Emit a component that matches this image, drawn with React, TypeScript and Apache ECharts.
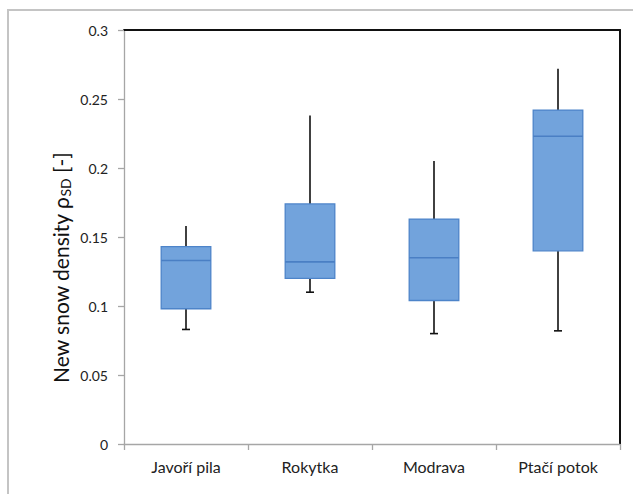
import React, { useEffect, useRef } from "react";
import * as echarts from "echarts";

const categories = ["Javoří pila", "Rokytka", "Modrava", "Ptačí potok"];
const whiskerLow = [0.083, 0.110, 0.080, 0.082];
const q1 = [0.098, 0.120, 0.104, 0.140];
const median = [0.133, 0.132, 0.135, 0.223];
const q3 = [0.143, 0.174, 0.163, 0.242];
const whiskerHigh = [0.158, 0.238, 0.205, 0.272];
const yMin = 0;
const yMax = 0.3;
const yStep = 0.05;
const yTitle = "{a|New snow density ρ}{s|SD}{a| [-]}";

const FONT = "Lato, 'Open Sans', sans-serif";

export default function App() {
  const ref = useRef<HTMLDivElement>(null);
  useEffect(() => {
    if (!ref.current) return;
    const chart = echarts.init(ref.current, null, { renderer: "svg" });
    const data = categories.map((_, i) => [i, whiskerLow[i], q1[i], median[i], q3[i], whiskerHigh[i]]);
    const whisk = { stroke: "#111", lineWidth: 1.6 };
    chart.setOption({
      animation: false,
      backgroundColor: "#fff",
      grid: { left: 124, right: 13, top: 30, bottom: 50 },
      xAxis: [
        {
          type: "category",
          data: categories,
          boundaryGap: true,
          position: "bottom",
          axisLine: { show: true, onZero: false, lineStyle: { color: "#a6a6a6", width: 1.3 } },
          axisTick: { show: true, length: 6, lineStyle: { color: "#a6a6a6", width: 1.3 } },
          axisLabel: { margin: 14, fontFamily: FONT, fontSize: 16, color: "#222" },
          splitLine: { show: false },
        },
        {
          type: "category",
          data: categories,
          position: "top",
          axisLine: { show: true, onZero: false, lineStyle: { color: "#111", width: 2 } },
          axisTick: { show: false },
          axisLabel: { show: false },
          splitLine: { show: false },
        },
      ],
      yAxis: [
        {
          type: "value",
          min: yMin,
          max: yMax,
          interval: yStep,
          position: "left",
          axisLine: { show: true, onZero: false, lineStyle: { color: "#a6a6a6", width: 1.3 } },
          axisTick: { show: true, length: 6, lineStyle: { color: "#a6a6a6", width: 1.3 } },
          axisLabel: { margin: 16, fontFamily: FONT, fontSize: 14, color: "#222" },
          splitLine: { show: false },
        },
        {
          type: "value",
          min: yMin,
          max: yMax,
          position: "right",
          axisLine: { show: true, onZero: false, lineStyle: { color: "#111", width: 2 } },
          axisTick: { show: false },
          axisLabel: { show: false },
          splitLine: { show: false },
        },
      ],
      graphic: [
        {
          type: "rect",
          shape: { x: 8, y: 10, width: 700, height: 600 },
          style: { fill: "none", stroke: "#c4c4c4", lineWidth: 2 },
          silent: true,
        },
        {
          type: "text",
          x: 60,
          y: 268,
          rotation: Math.PI / 2,
          style: {
            text: yTitle,
            align: "center",
            verticalAlign: "middle",
            rich: {
              a: { fontSize: 21, fontFamily: FONT, fill: "#111" },
              s: { fontSize: 14, fontFamily: FONT, fill: "#111", padding: [11, 0, 0, 0] },
            },
          },
        },
      ],
      series: [
        {
          type: "custom",
          xAxisIndex: 0,
          yAxisIndex: 0,
          data,
          encode: { x: 0, y: [1, 2, 3, 4, 5] },
          renderItem: (params: any, api: any) => {
            const idx = api.value(0);
            const lo = api.coord([idx, api.value(1)]);
            const b1 = api.coord([idx, api.value(2)]);
            const md = api.coord([idx, api.value(3)]);
            const b3 = api.coord([idx, api.value(4)]);
            const hi = api.coord([idx, api.value(5)]);
            const bw = api.size([1, 0])[0] * 0.4;
            const cx = lo[0];
            return {
              type: "group",
              children: [
                { type: "line", shape: { x1: cx, y1: hi[1], x2: cx, y2: b3[1] }, style: whisk },
                { type: "line", shape: { x1: cx, y1: b1[1], x2: cx, y2: lo[1] }, style: whisk },
                { type: "line", shape: { x1: cx - 4, y1: lo[1], x2: cx + 4, y2: lo[1] }, style: whisk },
                {
                  type: "rect",
                  shape: { x: cx - bw / 2, y: b3[1], width: bw, height: b1[1] - b3[1] },
                  style: { fill: "#72a3dc", stroke: "#4d84c9", lineWidth: 1.3 },
                },
                {
                  type: "line",
                  shape: { x1: cx - bw / 2, y1: md[1], x2: cx + bw / 2, y2: md[1] },
                  style: { stroke: "#4a7fc4", lineWidth: 1.6 },
                },
              ],
            };
          },
        },
      ],
    });
    return () => chart.dispose();
  }, []);
  return <div ref={ref} style={{ position: "fixed", left: 0, top: 0, width: 633, height: 494 }} />;
}
